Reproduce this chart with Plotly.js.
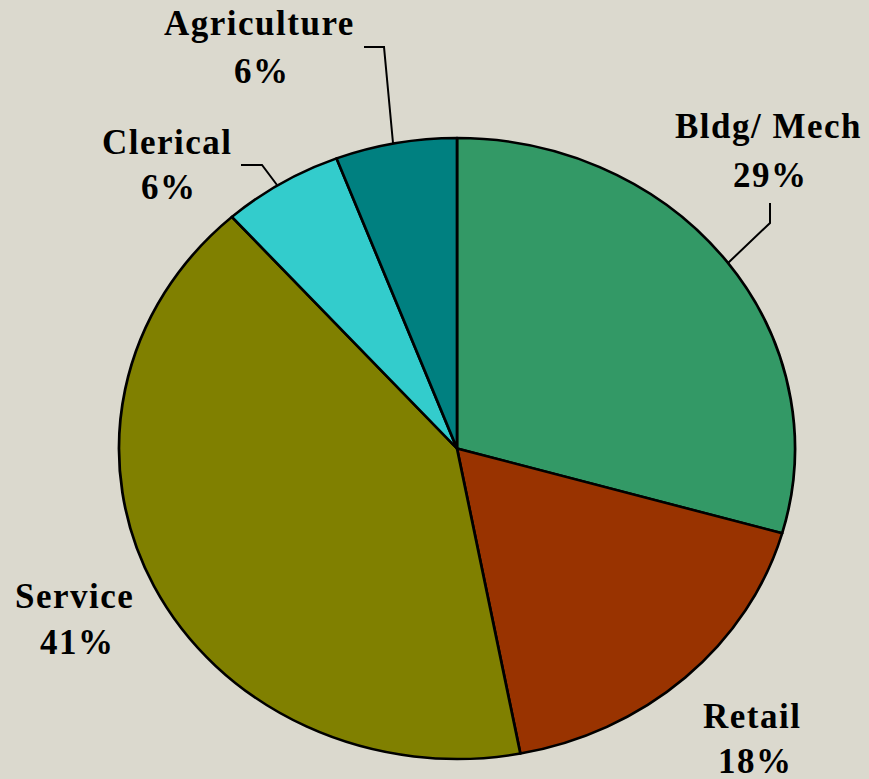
<!DOCTYPE html>
<html>
<head>
<meta charset="utf-8">
<script src="https://cdn.plot.ly/plotly-3.0.1.min.js"></script>
<style>
  html, body { margin: 0; padding: 0; width: 869px; height: 779px; overflow: hidden; background: #DBD9CE; }
  #pie { position: absolute; left: 0; top: 0; width: 869px; height: 779px; transform: scaleX(1.0886); transform-origin: 457px 0; }
  #labels { position: absolute; left: 0; top: 0; width: 869px; height: 779px; pointer-events: none; }
  .annotation-text { letter-spacing: 1.5px; }
</style>
</head>
<body>
<div id="pie"></div>
<div id="labels"></div>
<script>
// Data
var categories = ["Bldg/ Mech", "Retail", "Service", "Clerical", "Agriculture"];
var values = [29.4, 17.6, 41.4, 5.8, 5.8];
var colors = ["#339966", "#993300", "#808000", "#33CCCC", "#008080"];

// Label placement (pixel positions in the page): name line and percent line
var nameX = [768, 752, 74, 167, 259];
var nameY = [126, 716, 596, 142, 23];
var pctX = [770, 755, 77, 169, 262];
var pctY = [175, 761, 642, 187, 71];
var leaderPaths = [
  "M 770 203 L 770 223 L 728 263",
  null,
  null,
  "M 241 165 L 262 165 L 277 185",
  "M 364 47 L 384 47 L 393 143"
];

var W = 869, H = 779;
var cx = 457, cy = 448.5, r = 310.5;

Plotly.newPlot('pie', [{
  type: 'pie',
  labels: categories,
  values: values,
  sort: false,
  direction: 'clockwise',
  rotation: 0,
  textinfo: 'none',
  hoverinfo: 'none',
  marker: { colors: colors, line: { color: '#000000', width: 2.5 } },
  domain: { x: [(cx - r) / W, (cx + r) / W], y: [(H - cy - r) / H, (H - cy + r) / H] }
}], {
  width: W, height: H,
  margin: { l: 0, r: 0, t: 0, b: 0 },
  showlegend: false,
  paper_bgcolor: '#DBD9CE'
}, { staticPlot: true });

var total = values.reduce(function (a, b) { return a + b; }, 0);
var font = { family: 'Liberation Serif, Times New Roman, serif', size: 35, color: '#000000', weight: 'bold' };
var annotations = [];
categories.forEach(function (c, i) {
  annotations.push({
    x: nameX[i], y: nameY[i], xref: 'x', yref: 'y', text: c,
    showarrow: false, xanchor: 'center', yanchor: 'middle', font: font
  });
  annotations.push({
    x: pctX[i], y: pctY[i], xref: 'x', yref: 'y',
    text: Math.round(values[i] / total * 100) + '%',
    showarrow: false, xanchor: 'center', yanchor: 'middle', font: font
  });
});
var shapes = leaderPaths.filter(function (p) { return p; }).map(function (p) {
  return { type: 'path', path: p, xref: 'x', yref: 'y', line: { color: '#000000', width: 2 } };
});

Plotly.newPlot('labels', [], {
  width: W, height: H,
  margin: { l: 0, r: 0, t: 0, b: 0 },
  paper_bgcolor: 'rgba(0,0,0,0)', plot_bgcolor: 'rgba(0,0,0,0)',
  xaxis: { range: [0, W], visible: false, fixedrange: true },
  yaxis: { range: [H, 0], visible: false, fixedrange: true },
  showlegend: false,
  annotations: annotations,
  shapes: shapes
}, { staticPlot: true });
</script>
</body>
</html>
